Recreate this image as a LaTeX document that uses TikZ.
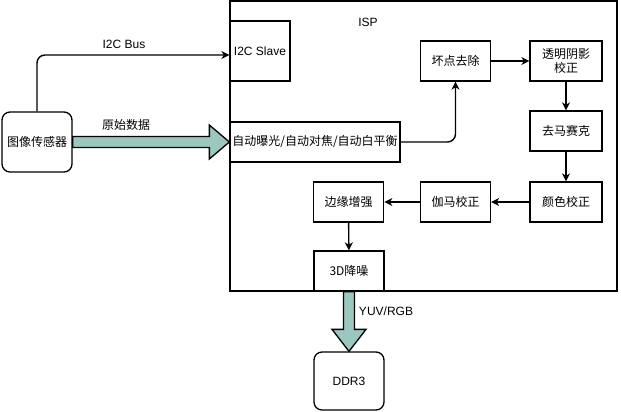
\documentclass[tikz,border=0pt]{standalone}
\usepackage{fontspec}
\setmainfont{Liberation Sans}
\newfontfamily\cjk{Noto Sans CJK SC}
\usetikzlibrary{arrows.meta,calc}
\definecolor{bigfill}{HTML}{9AC7BF}
\begin{document}
\begin{tikzpicture}[x=1pt,y=-1pt,
  box/.style={draw=black,line width=1.3pt,minimum width=70pt,minimum height=40pt,inner sep=1pt,font=\cjk\fontsize{12}{14}\selectfont,align=center,fill=white},
  rbox/.style={box,rounded corners=8pt},
  con/.style={draw=black,line width=1.4pt,-{Stealth[length=8pt,width=8pt,inset=2.5pt]}},
  lbl/.style={font=\fontsize{12}{14}\selectfont,inner sep=1pt},
  big/.style={draw=black,line width=1.3pt,fill=bigfill,line join=miter}]
\useasboundingbox (0,0) rectangle (621,412);
% ISP container
\node[draw=black,line width=1.3pt,minimum width=387pt,minimum height=290pt,inner sep=0pt] (isp) at (423.5,146) {};
\node[lbl] (isplbl) at (368,22) {ISP};
% nodes
\node[box,minimum width=60pt,minimum height=60pt,font=\fontsize{12}{14}\selectfont] (i2c) at (260,51) {I2C Slave};
\node[box,minimum width=170pt] (ae) at (315,142) {自动曝光/自动对焦/自动白平衡};
\node[rbox,minimum height=60pt] (sens) at (37,142) {图像传感器};
\node[box] (bad) at (455.5,61) {坏点去除};
\node[box,minimum width=72pt] (lsc) at (566,61) {透明阴影\\校正};
\node[box,minimum width=72pt] (demo) at (566,131) {去马赛克};
\node[box,minimum width=72pt] (cc) at (566,202) {颜色校正};
\node[box] (gamma) at (455.5,202) {伽马校正};
\node[box,line width=1.7pt] (edge) at (348.5,202) {边缘增强};
\node[box] (nr) at (349,271) {3D降噪};
\node[rbox,minimum height=58pt,font=\fontsize{12}{14}\selectfont] (ddr) at (349,381) {DDR3};
% connectors
\coordinate (i2cin) at ($(i2c.west)+(0,4)$);
\draw[con,rounded corners=8pt] (sens.north) |- (i2cin);
\node[lbl] (i2cbus) at (124,44) {I2C Bus};
\draw[con,rounded corners=8pt] (ae.east) -| (bad.south);
\draw[con] (bad) -- (lsc);
\draw[con] (lsc) -- (demo);
\draw[con] (demo) -- (cc);
\draw[con] (cc) -- (gamma);
\draw[con] (gamma) -- (edge);
\draw[con] (edge) -- (nr);
% big arrows
\draw[big] ($(sens.east)+(0,-5.5)$) -- ($(ae.west)+(-20,-5.5)$) -- ($(ae.west)+(-20,-17)$) -- (ae.west) -- ($(ae.west)+(-20,17)$) -- ($(ae.west)+(-20,5.5)$) -- ($(sens.east)+(0,5.5)$) -- cycle;
\node[lbl,font=\cjk\fontsize{12}{14}\selectfont] (raw) at (126,125) {原始数据};
\draw[big] ($(nr.south)+(-5.5,0)$) -- ($(ddr.north)+(-5.5,-22)$) -- ($(ddr.north)+(-17,-22)$) -- (ddr.north) -- ($(ddr.north)+(17,-22)$) -- ($(ddr.north)+(5.5,-22)$) -- ($(nr.south)+(5.5,0)$) -- cycle;
\node[lbl] (yuv) at (386,311) {YUV/RGB};
\end{tikzpicture}
\end{document}
